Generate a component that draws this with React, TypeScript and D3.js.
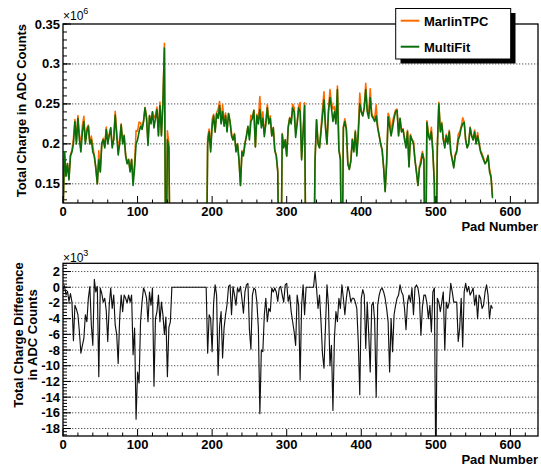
import React from 'react';
import * as d3 from 'd3';

// pads are sampled every 2nd pad: 0, 2, 4, ... 576
const PAD_STEP = 2;

// MultiFit total charge per pad, in units of 1e6 ADC counts
const multiFit = [
  0.11, 0.19, 0.16, 0.175, 0.155, 0.185, 0.19, 0.2, 0.228, 0.2, // 0
  0.232, 0.205, 0.19, 0.215, 0.228, 0.2, 0.215, 0.222, 0.2, 0.205, // 20
  0.19, 0.185, 0.17, 0.15, 0.18, 0.165, 0.2, 0.205, 0.195, 0.218, // 40
  0.2, 0.21, 0.22, 0.195, 0.205, 0.236, 0.21, 0.186, 0.2, 0.224, // 60
  0.2, 0.21, 0.185, 0.175, 0.18, 0.165, 0.18, 0.148, 0.17, 0.2, // 80
  0.205, 0.215, 0.222, 0.218, 0.228, 0.245, 0.232, 0.198, 0.235, 0.225, // 100
  0.24, 0.22, 0.232, 0.243, 0.21, 0.248, 0.21, 0.25, 0.32, 0, // 120
  0.205, 0.195, 0, 0, 0, 0, 0, 0, 0, 0, // 140
  0, 0, 0, 0, 0, 0, 0, 0, 0, 0, // 160
  0, 0, 0, 0, 0, 0, 0, 0.2, 0.215, 0.19, // 180
  0.222, 0.235, 0.215, 0.238, 0.232, 0.248, 0.225, 0.24, 0.222, 0.235, // 200
  0.215, 0.238, 0.228, 0.21, 0.205, 0.212, 0.19, 0.2, 0.18, 0.148, // 220
  0.19, 0.185, 0.2, 0.21, 0.222, 0.205, 0.228, 0.232, 0.242, 0.196, // 240
  0.235, 0.225, 0.243, 0.22, 0.232, 0.209, 0.225, 0.245, 0.225, 0.232, // 260
  0.21, 0.22, 0.192, 0.185, 0.165, 0, 0, 0.212, 0.195, 0.205, // 280
  0.185, 0.22, 0.232, 0.225, 0.245, 0.24, 0.208, 0.225, 0.245, 0.24, // 300
  0.18, 0.215, 0.248, 0, 0, 0, 0, 0, 0, 0.18, // 320
  0.23, 0.2, 0.195, 0.215, 0.235, 0.255, 0.22, 0.2, 0.24, 0.258, // 340
  0.245, 0.228, 0.24, 0.225, 0.268, 0.192, 0.18, 0, 0.22, 0.228, // 360
  0.218, 0.175, 0.168, 0.178, 0.205, 0.19, 0.215, 0.185, 0.212, 0.25, // 380
  0.24, 0.235, 0.245, 0.268, 0.24, 0.232, 0.258, 0.235, 0.232, 0.228, // 400
  0.235, 0.22, 0.21, 0.2, 0.192, 0.17, 0.14, 0.175, 0.234, 0.222, // 420
  0.21, 0.22, 0.232, 0.24, 0.242, 0.21, 0.232, 0.215, 0.218, 0.205, // 440
  0.195, 0.215, 0.171, 0.21, 0.205, 0.2, 0.18, 0.165, 0.148, 0.17, // 460
  0.175, 0.188, 0.18, 0, 0.227, 0.21, 0.205, 0.215, 0.19, 0.15, // 480
  0, 0.195, 0.25, 0.215, 0.225, 0.205, 0.195, 0.21, 0.2, 0.215, // 500
  0.19, 0.18, 0.17, 0.185, 0.19, 0.205, 0.21, 0.22, 0.225, 0.227, // 520
  0.205, 0.195, 0.2, 0.22, 0.21, 0.205, 0.215, 0.2, 0.21, 0.2, // 540
  0.19, 0.185, 0.18, 0.175, 0.178, 0.185, 0.165, 0.158, 0.132, // 560
];

// MultiFit minus MarlinTPC, in units of 1e3 ADC counts
const chargeDiff = [
  -0.3, 0.2, -1.0, -0.5, -1.8, -0.8, -1.9, -6.8, -2.3, -2.8, // 0
  -3.5, -5.7, -8.4, -7.4, -6.5, -3.5, -4.4, -1.4, 0.1, -4.8, // 20
  -7.4, 1.0, -0.6, 0.1, -11.4, -0.1, -0.8, -1.9, -1.4, -3.0, // 40
  -6.9, -2.3, -0.1, -2.7, -1.0, -4.8, -6.0, -9.7, -4.0, -1.0, // 60
  -3.1, -1.0, -1.4, -2.0, -1.0, -1.9, -1.0, -8.6, -5.2, -16.8, // 80
  -10.8, -12.2, -4.4, -1.9, -0.1, -0.6, -1.4, -4.4, -0.6, -2.3, // 100
  -0.1, -12.6, -4.0, -3.1, -1.0, -4.4, -1.9, -3.5, -6.0, -3.8, // 120
  -11.4, -5.1, -4.4, 0, 0, 0, 0, 0, 0, 0, // 140
  0, 0, 0, 0, 0, 0, 0, 0, 0, 0, // 160
  0, 0, 0, 0, 0, 0, 0, -8.4, -3.5, -4.0, // 180
  -8.2, -2.0, 0.3, -1.0, -11.2, -5.0, -3.1, -9.0, -5.2, -3.5, // 200
  -2.2, 0.1, 0.3, -3.5, 0.1, -1.0, -2.3, -0.1, -0.6, 0.1, // 220
  -1.5, -3.3, -0.6, 0.3, 0.5, -5.4, -7.9, -1.0, -0.1, -0.3, // 240
  -1.9, -5.2, -16.1, -8.0, -8.2, -3.5, -1.4, -4.4, -2.7, -3.1, // 260
  -0.1, -0.6, -0.1, -0.6, -1.8, -0.1, 0.1, -1.0, -1.9, 0.3, // 280
  0.5, -1.8, -1.0, -3.1, -4.4, -5.7, -7.4, -1.0, -2.3, -11.8, // 300
  -2.3, 0.3, -3.5, 0, 0, 0, 0, 0, 0, 2.0, // 320
  -0.1, -2.7, -1.0, -4.4, -8.5, -10.3, -5.0, 0.3, -2.3, -10.0, // 340
  -7.4, -15.7, -6.5, -3.1, -4.4, -1.4, -2.7, 0.3, -1.4, -3.5, // 360
  -1.4, 0.1, -0.6, -1.9, -1.4, -1.4, -1.9, -2.7, -7.0, -13.7, // 380
  -1.4, -0.3, -1.0, -7.8, -1.9, -6.0, -10.8, -2.3, -1.9, -4.4, // 400
  -14.0, -2.3, -1.0, -0.3, -0.1, -0.6, -1.4, -2.7, -4.4, -10.8, // 420
  -4.0, -8.2, -3.5, -2.3, -1.4, -1.0, 0.3, -0.6, -1.0, -2.7, // 440
  -5.4, -2.0, -1.0, -1.9, -0.1, -3.5, -0.1, 0.3, -0.1, -1.4, // 460
  -6.1, -2.5, -1.0, -1.0, -2.0, -4.0, -2.3, -5.7, -0.6, -0.1, // 480
  -24, -1.4, -1.9, -3.1, -1.9, -0.6, -8.0, -1.9, -2.7, -1.9, // 500
  0.5, -0.6, -1.9, -1.9, -1.9, -6.9, -5.2, -1.4, -7.6, -0.6, // 520
  0.5, -0.6, 0.1, -1.0, -0.6, -0.1, -2.3, -1.0, -4.0, -1.0, // 540
  -1.4, -2.7, -2.3, -0.6, 0.3, -1.0, -4.0, -2.3, -2.7, // 560
];

const pads = multiFit.map((_, i) => i * PAD_STEP);
// MarlinTPC = MultiFit - difference
const marlinTPC = multiFit.map((v, i) => v - chargeDiff[i] / 1000);

const xTicks = [0, 100, 200, 300, 400, 500, 600];
const topYTicks = [0.15, 0.2, 0.25, 0.3, 0.35];
const topYLabels = ['0.15', '0.2', '0.25', '0.3', '0.35'];
const bottomYTicks = [2, 0, -2, -4, -6, -8, -10, -12, -14, -16, -18];
const seriesNames = ['MarlinTPC', 'MultiFit'];
const seriesColors = ['#ff6a00', '#0b6e0b'];

const FONT = '"Liberation Sans", Arial, Helvetica, sans-serif';

const left = 63;
const right = 538;

const x = d3.scaleLinear().domain([0, 637]).range([left, right]);
const topFrame = { top: 24, bottom: 203 };
const botFrame = { top: 263.3, bottom: 436 };
const yTop = d3.scaleLinear().domain([0.126, 0.35]).range([topFrame.bottom, topFrame.top]);
const yBot = d3.scaleLinear().domain([-18.95, 3.05]).range([botFrame.bottom, botFrame.top]);

function XAxis({ yPos }: { yPos: number }) {
  const minor = d3.range(0, 637, 20).filter((v) => v % 100 !== 0);
  return (
    <g>
      {minor.map((v) => (
        <line key={'m' + v} x1={x(v)} x2={x(v)} y1={yPos} y2={yPos - 3.5} stroke="#000" />
      ))}
      {xTicks.map((v) => (
        <line key={'M' + v} x1={x(v)} x2={x(v)} y1={yPos} y2={yPos - 7} stroke="#000" />
      ))}
      {xTicks.map((v) => (
        <text key={'t' + v} x={x(v)} y={yPos + 13} textAnchor="middle" fontSize={13} fontWeight="bold">
          {v}
        </text>
      ))}
      <text x={right} y={yPos + 28} textAnchor="end" fontSize={13} fontWeight="bold">
        Pad Number
      </text>
    </g>
  );
}

function YTicks({ scale, major, minor, labels }: any) {
  const y1 = scale.range()[1];
  return (
    <g>
      {major.map((v: number) =>
        Math.abs(scale(v) - y1) > 1 ? (
          <line key={'g' + v} x1={left} x2={right} y1={scale(v)} y2={scale(v)}
            stroke="#555" strokeDasharray="1.3,1.7" />
        ) : null
      )}
      {minor.map((v: number) => (
        <line key={'m' + v} x1={left} x2={left + 4} y1={scale(v)} y2={scale(v)} stroke="#000" />
      ))}
      {major.map((v: number) => (
        <line key={'M' + v} x1={left} x2={left + 8} y1={scale(v)} y2={scale(v)} stroke="#000" />
      ))}
      {major.map((v: number, i: number) => (
        <text key={'t' + v} x={left - 3} y={scale(v) + 4.5} textAnchor="end" fontSize={13} fontWeight="bold">
          {labels[i]}
        </text>
      ))}
    </g>
  );
}

export default function App() {
  const topLine = (vals: number[]) =>
    d3.line<number>().x((_, i) => x(pads[i])).y((d) => yTop(d))(vals) || '';
  const diffLine =
    d3.line<number>().x((_, i) => x(pads[i])).y((d) => yBot(d))(chargeDiff) || '';

  const topMinor = d3.range(0.13, 0.3501, 0.01).map((v) => +v.toFixed(2));
  const botMinor = d3.range(-18.8, 3.0, 0.4).map((v) => +v.toFixed(1));

  return (
    <svg width={541} height={468} style={{ position: 'absolute', left: 0, top: 0, background: '#fff' }}
      fontFamily={FONT}>
      <defs>
        <clipPath id="clipTop">
          <rect x={left} y={topFrame.top} width={right - left} height={topFrame.bottom - topFrame.top} />
        </clipPath>
        <clipPath id="clipBot">
          <rect x={left} y={botFrame.top} width={right - left} height={botFrame.bottom - botFrame.top} />
        </clipPath>
      </defs>

      {/* top panel */}
      <YTicks scale={yTop} major={topYTicks} minor={topMinor} labels={topYLabels} />
      <g clipPath="url(#clipTop)">
        <path d={topLine(marlinTPC)} fill="none" stroke={seriesColors[0]} strokeWidth={1.6} strokeLinejoin="round" />
        <path d={topLine(multiFit)} fill="none" stroke={seriesColors[1]} strokeWidth={1.6} strokeLinejoin="round" />
      </g>
      <rect x={left} y={topFrame.top} width={right - left} height={topFrame.bottom - topFrame.top}
        fill="none" stroke="#000" strokeWidth={1.3} />
      <XAxis yPos={topFrame.bottom} />
      <text x={left} y={20} fontSize={12}>
        ×10<tspan dy={-6} fontSize={9}>6</tspan>
      </text>
      <text transform={`translate(26,${topFrame.top}) rotate(-90)`} textAnchor="end" fontSize={13} fontWeight="bold">
        Total Charge in ADC Counts
      </text>

      {/* legend */}
      <rect x={400.5} y={13} width={115} height={50.5} fill="#000" />
      <rect x={395.7} y={8.5} width={115} height={50.5} fill="#fff" stroke="#000" />
      {seriesNames.map((name, i) => (
        <g key={name}>
          <line x1={400.7} x2={419.3} y1={20.7 + i * 26} y2={20.7 + i * 26}
            stroke={seriesColors[i]} strokeWidth={2} />
          <text x={424} y={25.5 + i * 26} fontSize={13} fontWeight="bold">{name}</text>
        </g>
      ))}

      {/* bottom panel */}
      <YTicks scale={yBot} major={bottomYTicks} minor={botMinor} labels={bottomYTicks.map(String)} />
      <g clipPath="url(#clipBot)">
        <path d={diffLine} fill="none" stroke="#111" strokeWidth={1.15} strokeLinejoin="round" />
      </g>
      <rect x={left} y={botFrame.top} width={right - left} height={botFrame.bottom - botFrame.top}
        fill="none" stroke="#000" strokeWidth={1.3} />
      <XAxis yPos={botFrame.bottom} />
      <text x={left} y={262} fontSize={12}>
        ×10<tspan dy={-6} fontSize={9}>3</tspan>
      </text>
      <text transform="translate(23,335) rotate(-90)" textAnchor="middle" fontSize={13} fontWeight="bold">
        Total Charge Difference
      </text>
      <text transform="translate(37,335) rotate(-90)" textAnchor="middle" fontSize={13} fontWeight="bold">
        in ADC Counts
      </text>
    </svg>
  );
}
